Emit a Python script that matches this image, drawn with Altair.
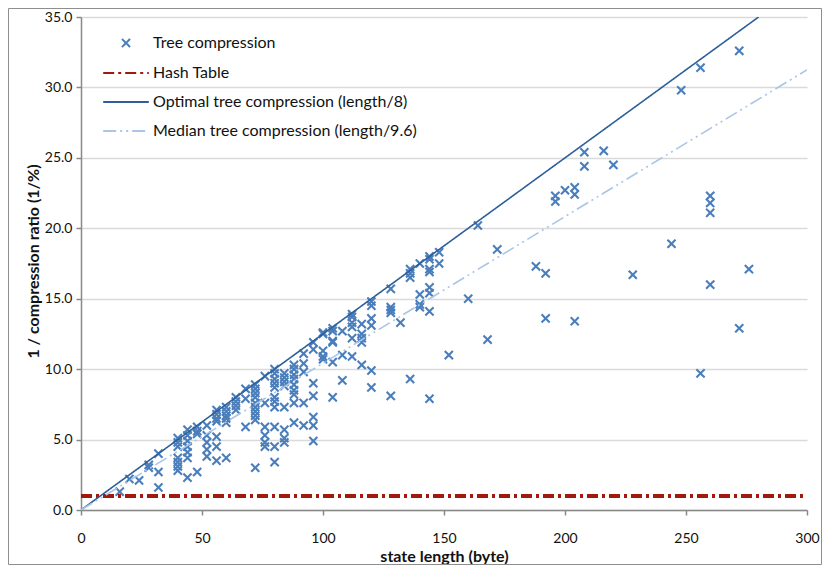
import altair as alt
import pandas as pd

# ---------------- data ----------------
tree_x = [16, 20, 24, 28, 28, 32, 32, 32,
          40, 40, 40, 40, 40, 40, 40,
          44, 44, 44, 44, 44, 44, 44,
          48, 48, 48, 48,
          52, 52, 52, 52, 52,
          56, 56, 56, 56, 56, 56, 56,
          60, 60, 60, 60, 60, 60,
          64, 64, 64, 64,
          68, 68, 68,
          72, 72, 72, 72, 72, 72, 72, 72, 72, 72,
          76, 76, 76, 76, 76, 76,
          80, 80, 80, 80, 80, 80, 80, 80, 80, 80, 80,
          84, 84, 84, 84, 84, 84, 84, 84,
          88, 88, 88, 88, 88, 88, 88, 88, 88,
          92, 92, 92, 92, 92,
          96, 96, 96, 96, 96, 96, 96,
          100, 100, 100, 100, 100,
          104, 104, 104, 104, 104, 104,
          108, 108, 108,
          112, 112, 112, 112, 112, 112,
          116, 116, 116, 116, 116,
          120, 120, 120, 120, 120, 120,
          128, 128, 128, 128, 128,
          132,
          136, 136, 136, 136,
          140, 140, 140, 140,
          144, 144, 144, 144, 144, 144, 144, 144,
          148, 148,
          152, 160, 164, 168, 172, 188,
          192, 192,
          196, 196,
          200,
          204, 204, 204,
          208, 208,
          216, 220, 228, 244, 248,
          256, 256,
          260, 260, 260, 260,
          272, 272,
          276]
tree_y = [1.3, 2.2, 2.1, 3.2, 3.0, 4.0, 2.7, 1.6,
          5.1, 4.8, 4.5, 3.7, 3.4, 3.1, 2.8,
          5.7, 5.3, 4.9, 4.5, 4.1, 3.7, 2.3,
          5.9, 5.6, 5.4, 2.7,
          6.0, 5.3, 4.8, 4.3, 3.8,
          7.1, 6.8, 6.5, 6.3, 5.2, 4.5, 3.5,
          7.3, 7.0, 6.7, 6.5, 6.2, 3.7,
          8.0, 7.7, 7.4, 7.1,
          8.6, 7.9, 5.9,
          8.9, 8.6, 8.3, 8.0, 7.6, 7.3, 7.0, 6.7, 6.4, 3.0,
          9.5, 7.6, 5.9, 5.3, 4.8, 4.5,
          10.0, 9.7, 9.3, 9.0, 8.7, 8.0, 7.7, 7.3, 5.9, 4.5, 3.4,
          9.7, 9.4, 9.1, 8.8, 7.3, 5.7, 5.1, 4.8,
          10.3, 10.0, 9.6, 9.3, 8.9, 8.5, 8.2, 7.6, 6.2,
          11.1, 10.4, 9.8, 7.6, 6.0,
          11.9, 11.4, 9.0, 8.1, 6.6, 6.0, 4.9,
          12.6, 12.5, 11.3, 10.9, 10.7,
          12.9, 12.7, 12.0, 11.9, 10.5, 8.0,
          12.7, 11.0, 9.2,
          13.9, 13.7, 13.3, 13.0, 12.2, 10.9,
          13.2, 12.5, 12.2, 11.9, 10.3,
          14.8, 14.5, 13.6, 13.1, 9.9, 8.7,
          15.7, 14.4, 14.2, 14.0, 8.1,
          13.3,
          17.1, 16.8, 16.5, 9.3,
          17.5, 15.3, 14.6, 14.4,
          18.0, 17.8, 17.1, 16.9, 15.8, 15.4, 14.1, 7.9,
          18.3, 17.5,
          11.0, 15.0, 20.2, 12.1, 18.5, 17.3,
          16.8, 13.6,
          22.3, 21.9,
          22.7,
          22.9, 22.4, 13.4,
          25.4, 24.4,
          25.5, 24.5, 16.7, 18.9, 29.8,
          31.4, 9.7,
          22.3, 21.8, 21.1, 16.0,
          32.6, 12.9,
          17.1]

series_names = ["Tree compression",
                "Hash Table",
                "Optimal tree compression (length/8)",
                "Median tree compression (length/9.6)"]
series_colors = ["#4A7EBB", "#A3170D", "#2D5F9A", "#A9C5E8"]

hash_x = [0, 300]
hash_y = [1.0, 1.0]
optimal_x = [0, 280]
optimal_divisor = 8
median_x = [0, 300]
median_divisor = 9.6

x_ticks = [0, 50, 100, 150, 200, 250, 300]
y_ticks = [0, 5, 10, 15, 20, 25, 30, 35]

# ---------------- tables ----------------
points_df = pd.DataFrame({"x": tree_x, "y": tree_y, "series": series_names[0]})
hash_df = pd.DataFrame({"x": hash_x, "y": hash_y, "series": series_names[1]})
optimal_df = pd.DataFrame({"x": optimal_x,
                           "y": [v / optimal_divisor for v in optimal_x],
                           "series": series_names[2]})
median_df = pd.DataFrame({"x": median_x,
                          "y": [v / median_divisor for v in median_x],
                          "series": series_names[3]})

FONT = "Lato"
W, H = 726, 493
PAD_L, PAD_T, PAD_R, PAD_B = 73, 9, 15, 55

x_path = "M-0.34,-0.34L0.34,0.34M-0.34,0.34L0.34,-0.34"
line_path = "M-1.9,0L1.9,0"

legend = alt.Legend(orient="none", legendX=32, legendY=13, title=None,
                    labelFont=FONT, labelFontSize=16, labelColor="#111111",
                    symbolSize=576, symbolStrokeWidth=2, labelOffset=14,
                    rowPadding=8, labelLimit=400)

color_enc = alt.Color("series:N", title=None,
                      scale=alt.Scale(domain=series_names, range=series_colors),
                      legend=legend)
shape_enc = alt.Shape("series:N", title=None,
                      scale=alt.Scale(domain=series_names,
                                      range=[x_path, line_path, line_path, line_path]),
                      legend=legend)
dash_enc = alt.StrokeDash("series:N", title=None,
                          scale=alt.Scale(domain=series_names,
                                          range=[[1, 0], [11, 4, 3, 4], [1, 0], [13, 4, 2, 4, 2, 4]]),
                          legend=legend)

x_enc = alt.X("x:Q", title="state length (byte)",
              scale=alt.Scale(domain=[0, 300], nice=False, padding=0),
              axis=alt.Axis(values=x_ticks, grid=False, format="d", labelFlush=False,
                            titleX=W / 2, titleY=38))
y_enc = alt.Y("y:Q", title="1 / compression ratio (1/%)",
              scale=alt.Scale(domain=[0, 35], nice=False, padding=0),
              axis=alt.Axis(values=y_ticks, grid=True, format=".1f", labelFlush=False,
                            titleX=-40, titleY=244))

points = alt.Chart(points_df).mark_point(
    filled=False, size=576, strokeWidth=2.1, opacity=1
).encode(x=x_enc, y=y_enc, color=color_enc, shape=shape_enc, strokeDash=dash_enc)

hash_line = alt.Chart(hash_df).mark_line(strokeWidth=4, strokeCap="butt", clip=True).encode(
    x=x_enc, y=y_enc, color=color_enc, strokeDash=dash_enc)
optimal_line = alt.Chart(optimal_df).mark_line(strokeWidth=1.6, clip=True).encode(
    x=x_enc, y=y_enc, color=color_enc, strokeDash=dash_enc)
median_line = alt.Chart(median_df).mark_line(strokeWidth=1.6, strokeCap="butt", clip=True).encode(
    x=x_enc, y=y_enc, color=color_enc, strokeDash=dash_enc)

frame = alt.Chart(pd.DataFrame({"f": [0]})).mark_rect(
    fill="transparent", stroke="#8E8E8E", strokeWidth=1
).encode(x=alt.value(-PAD_L + 0.5), x2=alt.value(W + PAD_R - 0.5),
         y=alt.value(-PAD_T + 0.5), y2=alt.value(H + PAD_B - 0.5))

chart = alt.layer(frame, points, hash_line, optimal_line, median_line).properties(
    width=W, height=H,
    autosize=alt.AutoSizeParams(type="none"),
    padding={"left": PAD_L, "top": PAD_T, "right": PAD_R, "bottom": PAD_B},
    background="white",
).configure_view(stroke=None).configure_axis(
    labelFont=FONT, labelFontSize=14, labelColor="#111111",
    titleFont=FONT, titleFontSize=16, titleFontWeight="bold", titleColor="#111111",
    domainColor="#898989", domainWidth=1.5,
    tickColor="#898989", tickSize=5, tickWidth=1.5,
    gridColor="#DADADA", gridWidth=1.5,
).configure_axisX(labelPadding=16).configure_axisY(labelPadding=4)

chart.save("out.html", embed_options={"renderer": "svg", "actions": False})
